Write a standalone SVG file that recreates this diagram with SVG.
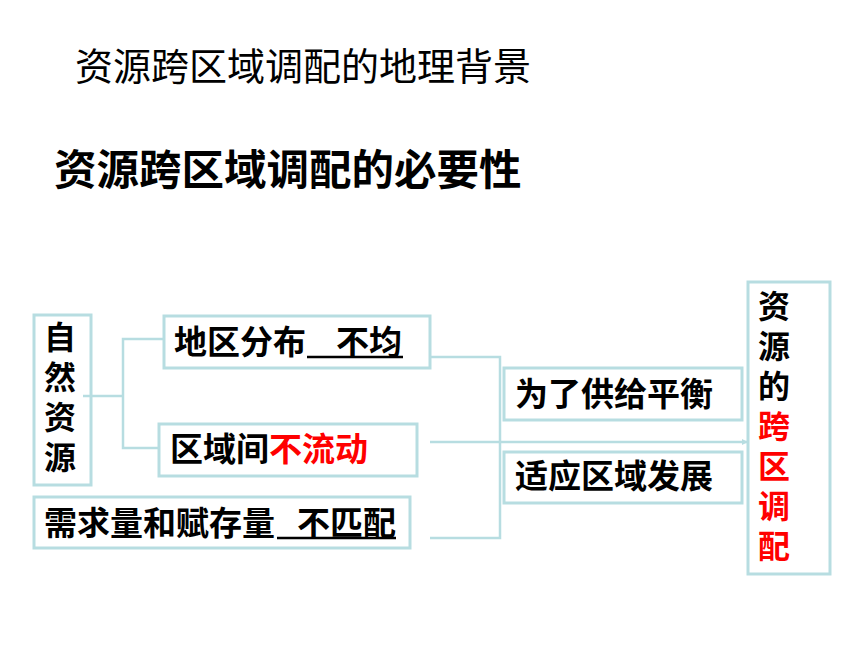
<svg xmlns="http://www.w3.org/2000/svg" width="860" height="645" viewBox="0 0 860 645">
<defs>
<style>
.box{fill:none;stroke:#b7dde1;stroke-width:3}
.con{fill:none;stroke:#b7dde1;stroke-width:2.5}
text{font-family:"Noto Sans CJK SC","Noto Sans CJK JP",sans-serif;fill:#000}
.t{font-size:33px;font-weight:bold}
.v{font-size:32px;font-weight:bold;writing-mode:vertical-rl;letter-spacing:8px}
.red{fill:#ff0000}
.ul{stroke:#000;stroke-width:2.5}
</style>
<marker id="arr" markerWidth="6" markerHeight="6" refX="5" refY="3" orient="auto" markerUnits="userSpaceOnUse">
<path d="M0,0 L6,3 L0,6 z" fill="#b7dde1"/>
</marker>
</defs>
<rect width="860" height="645" fill="#fff"/>
<g id="title1"><text x="75" y="80" style="font-size:38px">资源跨区域调配的地理背景</text></g>
<g id="title2"><text x="54" y="185" style="font-size:42.5px;font-weight:bold">资源跨区域调配的必要性</text></g>
<g id="connectors">
<polyline class="con" points="83,396 123,396"/>
<polyline class="con" points="164,339 123,339 123,448 159,448"/>
<polyline class="con" points="430,357 500,357 500,538 430,538"/>
<line class="con" x1="430" y1="442" x2="747" y2="442" marker-end="url(#arr)"/>
</g>
<g id="n-ziran">
<rect class="box" x="34" y="315" width="57" height="170"/>
<text class="v" x="60" y="321">自然资源</text>
</g>
<g id="n-diqu">
<rect class="box" x="164" y="316" width="266" height="52"/>
<text class="t" x="174" y="354">地区分布</text>
<text class="t" x="336" y="354">不均</text>
<line class="ul" x1="307" y1="357" x2="403" y2="357"/>
</g>
<g id="n-quyu">
<rect class="box" x="159" y="424" width="258" height="52"/>
<text class="t" x="170" y="461">区域间<tspan class="red">不流动</tspan></text>
</g>
<g id="n-xuqiu">
<rect class="box" x="34" y="497" width="376" height="51"/>
<text class="t" x="44" y="535">需求量和赋存量</text>
<text class="t" x="297" y="535">不匹配</text>
<line class="ul" x1="277" y1="538" x2="396" y2="538"/>
</g>
<g id="n-gongji">
<rect class="box" x="504" y="368" width="238" height="52"/>
<text class="t" x="515" y="406">为了供给平衡</text>
</g>
<g id="n-fazhan">
<rect class="box" x="504" y="452" width="238" height="51"/>
<text class="t" x="515" y="488">适应区域发展</text>
</g>
<g id="n-tiaopei">
<rect class="box" x="748" y="282" width="82" height="292"/>
<text class="v" x="774" y="290">资源的<tspan class="red">跨区调配</tspan></text>
</g>
</svg>
